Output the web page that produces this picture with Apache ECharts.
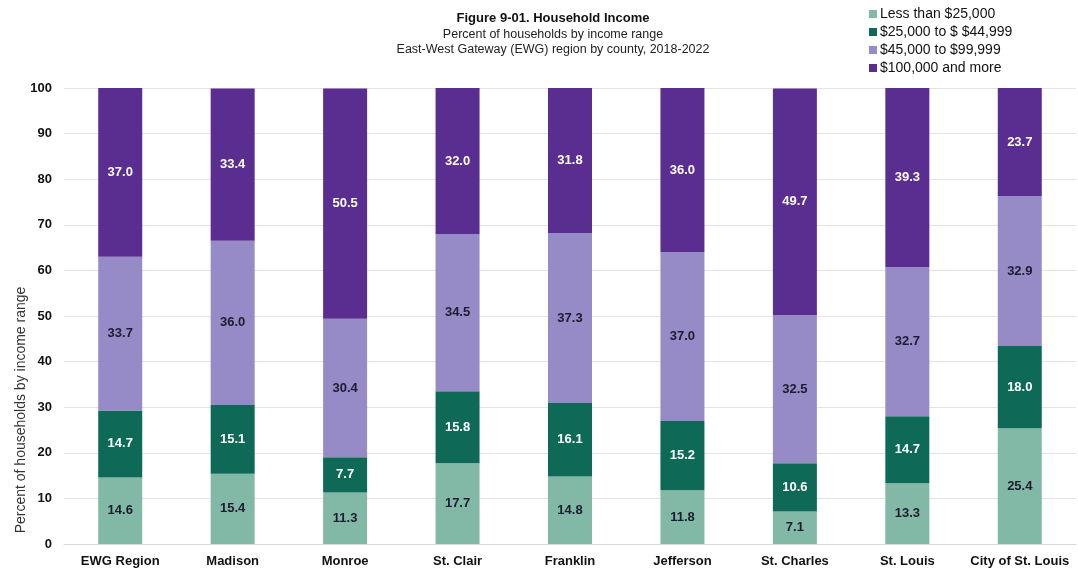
<!DOCTYPE html>
<html>
<head>
<meta charset="utf-8">
<script src="https://cdn.jsdelivr.net/npm/echarts@6/dist/echarts.min.js"></script>
<style>
html,body{margin:0;padding:0;background:#fff;}
#chart{width:1078px;height:574px;}
</style>
</head>
<body>
<div id="chart"></div>
<script>
const categories = ["EWG Region","Madison","Monroe","St. Clair","Franklin","Jefferson","St. Charles","St. Louis","City of St. Louis"];
const seriesNames = ["Less than $25,000","$25,000 to $ $44,999","$45,000 to $99,999","$100,000 and more"];
const under25k = [14.6,15.4,11.3,17.7,14.8,11.8,7.1,13.3,25.4];
const from25to45k = [14.7,15.1,7.7,15.8,16.1,15.2,10.6,14.7,18.0];
const from45to100k = [33.7,36.0,30.4,34.5,37.3,37.0,32.5,32.7,32.9];
const over100k = [37.0,33.4,50.5,32.0,31.8,36.0,49.7,39.3,23.7];
const yTicks = [0,10,20,30,40,50,60,70,80,90,100];
const yAxisTitle = 'Percent of households by income range';

const colors = ["#82b8a6","#0e6a56","#968bc6","#5a2d91"];
const labelColors = ["#1c1c30","#ffffff","#1c1c30","#ffffff"];
const allData = [under25k, from25to45k, from45to100k, over100k];
const FONT = "Liberation Sans, Arial, sans-serif";

const chart = echarts.init(document.getElementById('chart'), null, {renderer:'canvas'});
chart.setOption({
  animation:false,
  backgroundColor:'#ffffff',
  title:{
    text:'Figure 9-01. Household Income',
    subtext:'Percent of households by income range\nEast-West Gateway (EWG) region by county, 2018-2022',
    left:548, top:7, textAlign:'center',
    itemGap:2,
    textStyle:{fontFamily:FONT,fontSize:13,fontWeight:'bold',color:'#111'},
    subtextStyle:{fontFamily:FONT,fontSize:12.5,color:'#222',lineHeight:15}
  },
  legend:{
    orient:'vertical', left:864, top:2,
    itemWidth:8, itemHeight:8, itemGap:4, icon:'rect',
    textStyle:{fontFamily:FONT,fontSize:14,color:'#111',padding:[0,0,0,-2]},
    data:seriesNames
  },
  graphic:[{
    type:'text', x:21, y:410, rotation:Math.PI/2,
    style:{text:yAxisTitle, fill:'#333', font:'14px Liberation Sans, Arial, sans-serif',
      textAlign:'center', textVerticalAlign:'middle'}
  }],
  grid:{left:64, right:2, top:88, bottom:30},
  xAxis:{
    type:'category', data:categories,
    axisTick:{show:false},
    axisLine:{lineStyle:{color:'#d9d9d9'}},
    axisLabel:{fontFamily:FONT,fontSize:13,fontWeight:'bold',color:'#111',margin:11,interval:0}
  },
  yAxis:{
    type:'value', min:yTicks[0], max:yTicks[yTicks.length-1], interval:10,
    axisLine:{show:false}, axisTick:{show:false},
    axisLabel:{fontFamily:FONT,fontSize:13,fontWeight:'bold',color:'#111',margin:12},
    splitLine:{lineStyle:{color:'#e3e3e3'}}
  },
  series: allData.map((d,i)=>({
    name:seriesNames[i], type:'bar', stack:'total', data:d,
    barWidth:44,
    itemStyle:{color:colors[i]},
    label:{show:true,position:'inside',formatter:p=>p.value.toFixed(1),
      fontFamily:FONT,fontSize:13,fontWeight:'bold',color:labelColors[i]}
  }))
});
</script>
</body>
</html>
